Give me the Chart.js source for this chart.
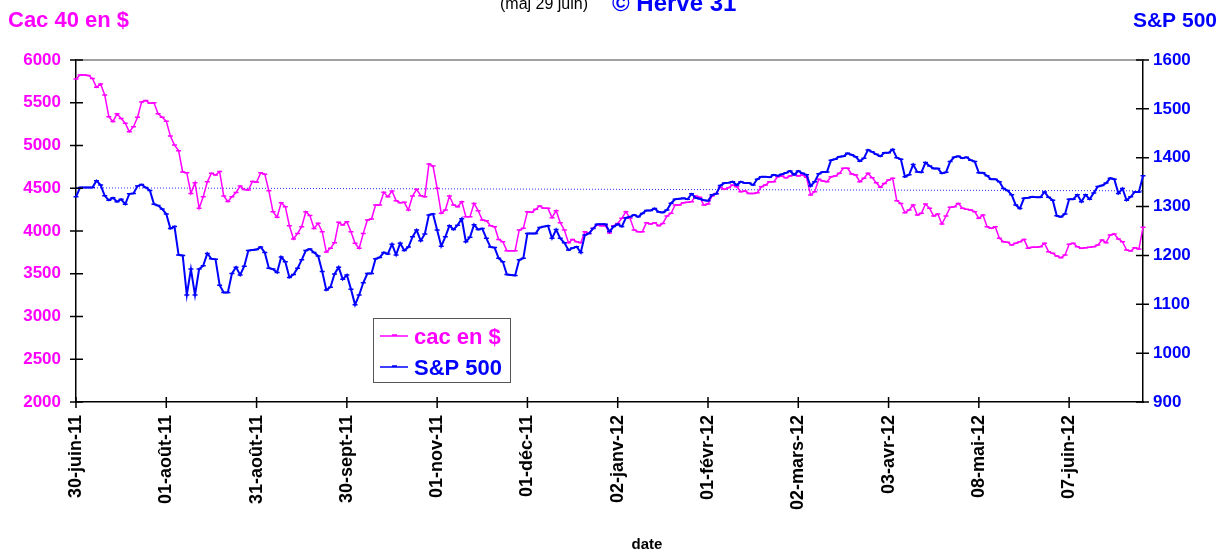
<!DOCTYPE html>
<html>
<head>
<meta charset="utf-8">
<script src="https://cdn.jsdelivr.net/npm/chart.js@4.4.0/dist/chart.umd.min.js"></script>
<style>
  body { margin: 0; background: #fff; }
  #wrap { width: 1225px; height: 555px; }
</style>
</head>
<body>
<div id="wrap"><canvas id="myChart" width="1225" height="555"></canvas></div>
<script>
// tick labels shown every 22 trading days
var dateTicks = ['30-juin-11', '01-août-11', '31-août-11', '30-sept-11', '01-nov-11', '01-déc-11',
  '02-janv-12', '01-févr-12', '02-mars-12', '03-avr-12', '08-mai-12', '07-juin-12'];
var tickEvery = 22;

// cac 40 converted in $ (left axis)
var cacEnDollar = [
  5778,5825,5825,5820,5785,5680,5720,5590,5337,5280,
  5370,5315,5260,5160,5220,5330,5510,5525,5495,5500,
  5370,5330,5285,5110,5005,4940,4690,4680,4440,4565,
  4265,4400,4575,4675,4655,4695,4410,4345,4400,4450,
  4525,4485,4480,4580,4570,4680,4665,4470,4225,4160,
  4330,4285,4062,3906,3972,4050,4225,4180,4030,4090,
  3992,3754,3797,3863,4101,4070,4109,3992,3856,3797,
  3972,4129,4140,4304,4304,4452,4401,4468,4355,4331,
  4335,4245,4409,4487,4413,4401,4784,4760,4499,4207,
  4246,4409,4304,4284,4343,4168,4168,4323,4238,4129,
  4121,4062,4050,3902,3875,3770,3770,3770,4012,4031,
  4226,4218,4253,4292,4265,4265,4156,4238,4097,4012,
  3863,3902,3875,3863,3992,3972,4031,4070,4062,4062,
  3976,4062,4089,4148,4226,4148,4012,3992,3992,4097,
  4082,4097,4062,4089,4175,4207,4304,4304,4331,4335,
  4343,4409,4394,4304,4316,4409,4440,4511,4487,4507,
  4538,4518,4460,4468,4440,4440,4448,4518,4538,4577,
  4577,4635,4643,4622,4643,4667,4643,4655,4628,4421,
  4460,4604,4585,4577,4635,4643,4674,4733,4733,4667,
  4655,4577,4616,4674,4624,4565,4511,4557,4596,4616,
  4355,4323,4214,4246,4304,4187,4207,4316,4265,4175,
  4199,4082,4175,4277,4284,4323,4265,4253,4245,4226,
  4148,4187,4050,4031,4050,3914,3875,3867,3836,3856,
  3875,3902,3797,3809,3809,3817,3856,3758,3739,3707,
  3688,3719,3844,3856,3817,3797,3805,3809,3817,3836,
  3894,3863,3953,3965,3906,3875,3778,3766,3805,3789,
  4043
];

// S&P 500 (right axis)
var sp500 = [
  1320,1339,1339,1339,1339,1353,1344,1322,1313,1318,
  1310,1315,1305,1326,1327,1342,1345,1339,1333,1305,
  1302,1295,1285,1255,1259,1201,1200,1119,1172,1119,
  1172,1179,1204,1193,1192,1139,1124,1124,1163,1176,
  1160,1178,1210,1211,1212,1217,1206,1174,1172,1165,
  1197,1187,1155,1161,1174,1191,1210,1213,1206,1199,
  1167,1129,1135,1162,1176,1151,1160,1131,1099,1119,
  1144,1163,1163,1193,1196,1206,1203,1223,1201,1225,
  1210,1217,1238,1252,1230,1244,1283,1285,1252,1219,
  1238,1261,1253,1262,1275,1228,1237,1263,1253,1255,
  1235,1217,1216,1194,1187,1161,1160,1159,1191,1194,
  1245,1245,1245,1257,1259,1261,1235,1253,1235,1226,
  1211,1215,1218,1206,1242,1245,1255,1264,1264,1264,
  1249,1259,1264,1259,1277,1279,1283,1279,1286,1292,
  1292,1296,1289,1288,1293,1307,1315,1316,1317,1315,
  1326,1318,1316,1313,1312,1324,1326,1343,1348,1349,
  1351,1344,1351,1348,1348,1344,1356,1361,1361,1360,
  1365,1363,1366,1369,1373,1365,1373,1368,1365,1342,
  1351,1367,1371,1371,1395,1397,1402,1403,1409,1406,
  1402,1393,1399,1416,1412,1407,1403,1410,1410,1417,
  1400,1397,1361,1365,1386,1371,1370,1390,1383,1378,
  1378,1368,1370,1392,1401,1403,1399,1401,1395,1392,
  1369,1369,1363,1356,1356,1351,1337,1333,1324,1303,
  1296,1317,1318,1320,1319,1319,1330,1319,1313,1281,
  1279,1285,1315,1315,1324,1310,1324,1315,1328,1341,
  1343,1348,1358,1356,1327,1337,1313,1320,1330,1330,
  1363
];

// dotted reference line (start, end) on the cac axis
var refLine = [4505, 4470];

var cacTicks = [2000, 2500, 3000, 3500, 4000, 4500, 5000, 5500, 6000];
var spTicks = [900, 1000, 1100, 1200, 1300, 1400, 1500, 1600];

var MAGENTA = '#ff00ff';
var BLUE = '#0000ff';
var FONT = 'Arial, "Liberation Sans", sans-serif';

var labels = cacEnDollar.map(function(v, i) {
  return i % tickEvery === 0 ? dateTicks[i / tickEvery] : '';
});
var last = labels.length - 1;
var refData = labels.map(function(l, i) {
  if (i === 0) return refLine[0];
  if (i === last) return refLine[1];
  return null;
});

// axes crosses, titles, legend box
var decor = {
  id: 'decor',
  afterDraw: function(chart) {
    var ctx = chart.ctx;
    var area = chart.chartArea;
    var xs = chart.scales.x, yl = chart.scales.yCac, yr = chart.scales.ySp;
    ctx.save();

    ctx.strokeStyle = '#808080';
    ctx.lineWidth = 1.5;
    ctx.beginPath();
    ctx.moveTo(area.left, area.top);
    ctx.lineTo(area.right, area.top);
    ctx.stroke();

    ctx.strokeStyle = '#000';
    ctx.lineWidth = 1.5;
    ctx.beginPath();
    cacTicks.forEach(function(t) {
      var y = yl.getPixelForValue(t);
      ctx.moveTo(area.left - 6, y); ctx.lineTo(area.left + 7, y);
    });
    spTicks.forEach(function(t) {
      var y = yr.getPixelForValue(t);
      ctx.moveTo(area.right - 7, y); ctx.lineTo(area.right + 6, y);
    });
    labels.forEach(function(l, i) {
      if (!l) return;
      var x = xs.getPixelForValue(i);
      ctx.moveTo(x, area.bottom - 5); ctx.lineTo(x, area.bottom + 6);
    });
    ctx.stroke();

    ctx.textBaseline = 'alphabetic';
    ctx.textAlign = 'left';
    ctx.fillStyle = MAGENTA;
    ctx.font = 'bold 22px ' + FONT;
    ctx.fillText('Cac 40 en $', 8, 27);
    ctx.textAlign = 'right';
    ctx.fillStyle = BLUE;
    ctx.font = 'bold 21px ' + FONT;
    ctx.fillText('S&P 500', 1217, 27);

    ctx.textAlign = 'left';
    ctx.fillStyle = '#000';
    ctx.font = '16px ' + FONT;
    ctx.fillText('(maj 29 juin)', 500, 9);
    ctx.fillStyle = BLUE;
    ctx.font = 'bold 24px ' + FONT;
    ctx.fillText('© Hervé 31', 612, 11);

    ctx.fillStyle = '#000';
    ctx.font = 'bold 15px ' + FONT;
    ctx.textAlign = 'center';
    ctx.fillText('date', 647, 549);

    // legend
    ctx.fillStyle = '#fff';
    ctx.fillRect(373, 318, 137, 64);
    ctx.strokeStyle = '#555';
    ctx.lineWidth = 1;
    ctx.strokeRect(373.5, 318.5, 137, 64);
    var items = [['cac en $', MAGENTA, 336], ['S&P 500', BLUE, 367]];
    items.forEach(function(it) {
      ctx.strokeStyle = it[1];
      ctx.lineWidth = 1.5;
      ctx.beginPath();
      ctx.moveTo(380, it[2]); ctx.lineTo(408, it[2]);
      ctx.moveTo(392, it[2] - 1); ctx.lineTo(397, it[2] - 1);
      ctx.stroke();
      ctx.fillStyle = it[1];
      ctx.font = 'bold 22px ' + FONT;
      ctx.textAlign = 'left';
      ctx.fillText(it[0], 414, it[2] + 8);
    });
    ctx.restore();
  }
};

var ctx = document.getElementById('myChart').getContext('2d');
var myChart = new Chart(ctx, {
  type: 'line',
  data: {
    labels: labels,
    datasets: [{
      label: 'cac en $',
      data: cacEnDollar,
      yAxisID: 'yCac',
      borderColor: MAGENTA,
      backgroundColor: MAGENTA,
      borderWidth: 1.5,
      pointStyle: 'line',
      pointRadius: 2.5,
      pointBorderWidth: 1.5,
      pointBorderColor: MAGENTA,
      tension: 0,
      order: 2
    }, {
      label: 'S&P 500',
      data: sp500,
      yAxisID: 'ySp',
      borderColor: BLUE,
      backgroundColor: BLUE,
      borderWidth: 2,
      pointStyle: 'line',
      pointRadius: 2.5,
      pointBorderWidth: 1.5,
      pointBorderColor: BLUE,
      tension: 0,
      order: 1
    }, {
      label: 'ref',
      data: refData,
      yAxisID: 'yCac',
      borderColor: '#2a2aff',
      borderWidth: 1,
      borderDash: [1, 2],
      pointRadius: 0,
      spanGaps: true,
      order: 3
    }]
  },
  options: {
    responsive: false,
    animation: false,
    devicePixelRatio: 1,
    layout: { padding: { left: 0, right: 0, top: 60, bottom: 0 } },
    plugins: { legend: { display: false }, tooltip: { enabled: false } },
    scales: {
      x: {
        type: 'category',
        offset: false,
        grid: { display: false },
        border: { color: '#000', width: 1.5 },
        ticks: {
          autoSkip: false,
          minRotation: 90,
          maxRotation: 90,
          padding: 5,
          color: '#000',
          font: { family: FONT, size: 18, weight: 'bold' },
          callback: function(v, i) { return labels[i]; }
        },
        afterFit: function(s) { s.height = 153; }
      },
      yCac: {
        position: 'left',
        min: 2000,
        max: 6000,
        grid: { display: false },
        border: { color: '#000', width: 1.5 },
        ticks: {
          stepSize: 500,
          padding: 7,
          color: MAGENTA,
          font: { family: FONT, size: 17, weight: 'bold' },
          callback: function(v) { return String(v); }
        },
        afterFit: function(s) { s.width = 76; }
      },
      ySp: {
        position: 'right',
        min: 900,
        max: 1600,
        grid: { display: false },
        border: { color: '#000', width: 1.5 },
        ticks: {
          stepSize: 100,
          padding: 2,
          color: BLUE,
          font: { family: FONT, size: 17, weight: 'bold' },
          callback: function(v) { return String(v); }
        },
        afterFit: function(s) { s.width = 82; }
      }
    }
  },
  plugins: [decor]
});
</script>
</body>
</html>
